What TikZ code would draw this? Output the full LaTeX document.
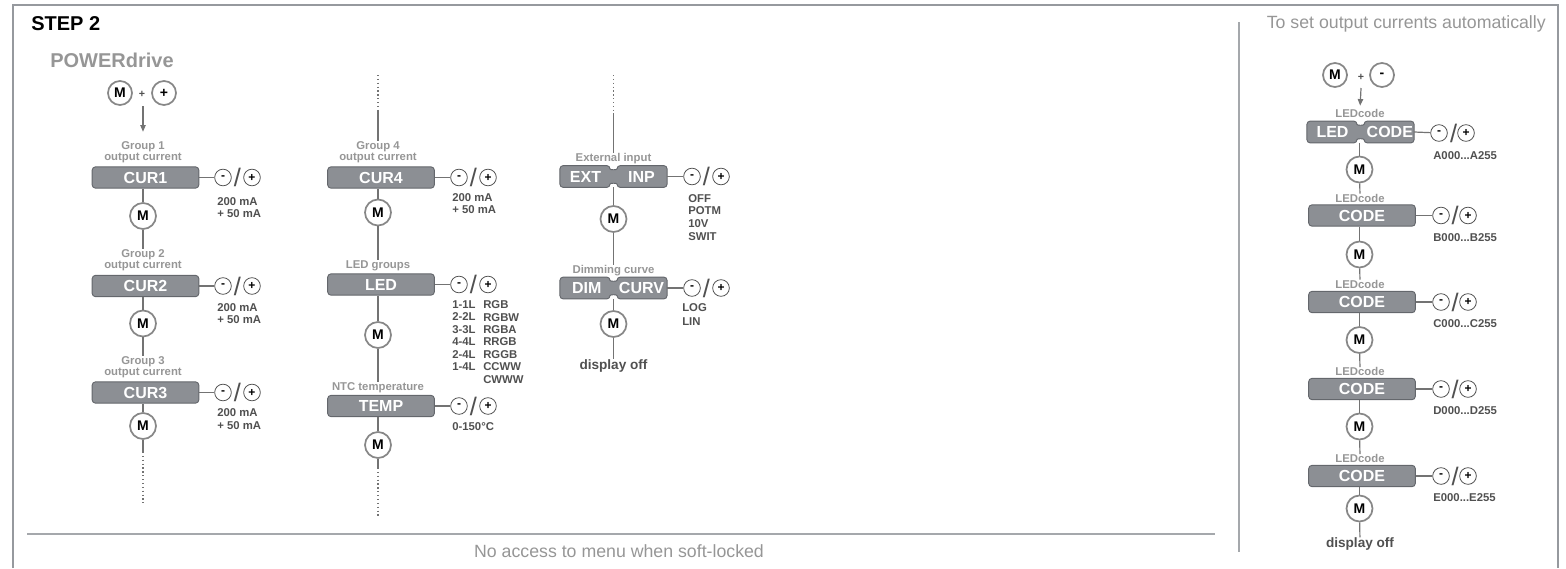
\documentclass[tikz,border=0pt]{standalone}
\usepackage{fontspec}
\setmainfont{Liberation Sans}
\usetikzlibrary{arrows.meta}
\definecolor{framegray}{RGB}{150,153,158}
\definecolor{sepgray}{RGB}{165,168,172}
\definecolor{boxfill}{RGB}{140,143,148}
\definecolor{boxedge}{RGB}{100,103,108}
\definecolor{ringgray}{RGB}{135,135,135}
\definecolor{lblgray}{RGB}{150,150,150}
\definecolor{valgray}{RGB}{80,80,80}
\definecolor{wiregray}{RGB}{115,115,115}

\tikzset{
  menubox/.style={rectangle, rounded corners=2.5pt, fill=boxfill, draw=boxedge,
    line width=0.7pt, minimum width=80pt, minimum height=16pt, inner sep=0pt,
    text=white, font=\fontsize{12}{12}\selectfont\bfseries},
  splitbox/.style={rectangle, minimum width=80pt, minimum height=16pt, inner sep=0pt},
  splitedge/.style={fill=boxfill, draw=boxedge, line width=0.7pt, rounded corners=2.5pt},
  boxtext/.style={text=white, inner sep=0pt, font=\fontsize{12}{12}\selectfont\bfseries},
  mkey/.style={circle, draw=ringgray, line width=1.3pt, fill=white, minimum size=19.5pt,
    inner sep=0pt, font=\fontsize{10.5}{10.5}\selectfont\bfseries},
  startkey/.style={mkey, minimum size=18pt},
  pmkey/.style={circle, draw=valgray, line width=0.6pt, minimum size=12.5pt, inner sep=0pt,
    font=\fontsize{9}{9}\selectfont\bfseries},
  slashmark/.style={inner sep=0pt, text=valgray, font=\fontsize{19}{19}\selectfont},
  andsign/.style={inner sep=0pt, text=valgray, font=\fontsize{8}{8}\selectfont\bfseries},
  menulbl/.style={text=lblgray, align=center, inner sep=0pt,
    font=\fontsize{8.5}{8.25}\selectfont\bfseries},
  vals/.style={text=valgray, align=left, anchor=north west, inner sep=0pt,
    font=\fontsize{8.5}{9.6}\selectfont\bfseries},
  wire/.style={draw=wiregray, line width=0.9pt},
  dotwire/.style={draw=wiregray, line width=0.9pt, dotted},
  note/.style={text=lblgray, inner sep=0pt, font=\fontsize{13.3}{13.3}\selectfont},
}

\begin{document}
\begin{tikzpicture}[x=0.75pt, y=-0.75pt]

\useasboundingbox (0,0) rectangle (1566,568);

% Frame and separators
\draw[framegray, line width=1.6pt] (13,568) -- (13,5) -- (1558,5) -- (1558,568);
\draw[sepgray, line width=1.3pt] (1239,22) -- (1239,552);
\draw[sepgray, line width=1.3pt] (27,534) -- (1215,534);

% Titles
\node[anchor=west, inner sep=0pt, font=\fontsize{15}{15}\selectfont\bfseries] (step) at (31,24) {STEP 2};
\node[anchor=west, inner sep=0pt, text=lblgray, font=\fontsize{15}{15}\selectfont\bfseries] (brand) at (50,60) {POWERdrive};
\node[note, anchor=east] (auto) at (1546,24) {To set output currents automatically};
\node[note] (locked) at (619,551) {No access to menu when soft-locked};

% Column 1: CUR1 .. CUR3
\node[startkey] (mk0) at (120,93) {M};
\node[andsign] (and0) at (142,94) {+};
\node[startkey] (pk0) at (164,93) {+};
\coordinate (arr0) at (143,106);

\node[menulbl] (lab1) at (143,152) {Group 1\\output current};
\draw[wire, -{Triangle[length=5pt,width=4pt]}, shorten >=7pt] (arr0) -- (lab1.north);
\node[menubox] (cur1) at (145.5,177.5) {CUR1};
\node[pmkey] (mn1) at (223,177.5) {-};
\node[slashmark] (sl1) at (237.5,177.5) {/};
\node[pmkey] (pl1) at (252,177.5) {+};
\node[vals] (v1) at (217,197) {200 mA\\+ 50 mA};
\node[mkey] (m1) at (143,216) {M};
\draw[wire] (cur1) -- (mn1);
\draw[wire] (cur1.south -| m1) -- (m1.north);

\node[menulbl] (lab2) at (143,260) {Group 2\\output current};
\draw[wire] (m1) -- (lab2);
\node[menubox] (cur2) at (145.5,286) {CUR2};
\node[pmkey] (mn2) at (223,286) {-};
\node[slashmark] (sl2) at (237.5,286) {/};
\node[pmkey] (pl2) at (252,286) {+};
\node[vals] (v2) at (217,303) {200 mA\\+ 50 mA};
\node[mkey] (m2) at (143,323.5) {M};
\draw[wire] (cur2) -- (mn2);
\draw[wire] (cur2.south -| m2) -- (m2.north);

\node[menulbl] (lab3) at (143,367) {Group 3\\output current};
\draw[wire] (m2) -- (lab3);
\node[menubox] (cur3) at (145.5,392.5) {CUR3};
\node[pmkey] (mn3) at (223,392.5) {-};
\node[slashmark] (sl3) at (237.5,392.5) {/};
\node[pmkey] (pl3) at (252,392.5) {+};
\node[vals] (v3) at (217,408.5) {200 mA\\+ 50 mA};
\node[mkey] (m3) at (143,426) {M};
\draw[wire] (cur3) -- (mn3);
\draw[wire] (cur3.south -| m3) -- (m3.north);
\coordinate (e3a) at (143,452);
\coordinate (e3b) at (143,503);
\draw[wire] (m3) -- (e3a);
\draw[dotwire] (e3a) -- (e3b);

% Column 2: CUR4, LED, TEMP
\coordinate (t4a) at (378,75);
\coordinate (t4b) at (378,110);
\draw[dotwire] (t4a) -- (t4b);
\node[menulbl] (lab4) at (378,152) {Group 4\\output current};
\draw[wire] (t4b) -- (lab4);
\node[menubox] (cur4) at (381,177.5) {CUR4};
\node[pmkey] (mn4) at (459,177.5) {-};
\node[slashmark] (sl4) at (473.5,177.5) {/};
\node[pmkey] (pl4) at (488,177.5) {+};
\node[vals] (v4) at (452,193) {200 mA\\+ 50 mA};
\node[mkey] (m4) at (378,212.5) {M};
\draw[wire] (cur4) -- (mn4);
\draw[wire] (cur4.south -| m4) -- (m4.north);

\node[menulbl] (lab5) at (378,265.5) {LED groups};
\draw[wire] (m4) -- (lab5);
\node[menubox] (led) at (381,284.5) {LED};
\node[pmkey] (mn5) at (459,284.5) {-};
\node[slashmark] (sl5) at (473.5,284.5) {/};
\node[pmkey] (pl5) at (488,284.5) {+};
\node[vals, font=\fontsize{8.5}{9.3}\selectfont\bfseries] (v5a) at (452,300.5)
    {1-1L\\2-2L\\3-3L\\4-4L\\2-4L\\1-4L};
\node[vals, font=\fontsize{8.5}{9.3}\selectfont\bfseries] (v5b) at (483,300.5)
    {RGB\\RGBW\\RGBA\\RRGB\\RGGB\\CCWW\\CWWW};
\node[mkey] (m5) at (378,335) {M};
\draw[wire] (led) -- (mn5);
\draw[wire] (led.south -| m5) -- (m5.north);

\node[menulbl] (lab6) at (378,387.5) {NTC temperature};
\draw[wire] (m5) -- (lab6);
\node[menubox] (temp) at (381,406) {TEMP};
\node[pmkey] (mn6) at (459,406) {-};
\node[slashmark] (sl6) at (473.5,406) {/};
\node[pmkey] (pl6) at (488,406) {+};
\node[vals] (v6) at (452,422) {0-150°C};
\node[mkey] (m6) at (378,445) {M};
\draw[wire] (temp) -- (mn6);
\draw[wire] (temp.south -| m6) -- (m6.north);
\coordinate (e6a) at (378,468);
\coordinate (e6b) at (378,518);
\draw[wire] (m6) -- (e6a);
\draw[dotwire] (e6a) -- (e6b);

% Column 3: EXT INP, DIM CURV
\coordinate (t7a) at (613.5,75);
\coordinate (t7b) at (613.5,113);
\draw[dotwire] (t7a) -- (t7b);
\node[menulbl] (lab7) at (613.5,158.5) {External input};
\draw[wire] (t7b) -- (lab7);
\node[splitbox] (ext) at (613.5,176.5) {};
\draw[splitedge] (ext.north west) -- ([xshift=-2.6pt]ext.north)
    .. controls +(0,4.5) and +(0,4.5) .. ([xshift=2.6pt]ext.north) -- (ext.north east)
    -- (ext.south east) -- ([xshift=2.6pt]ext.south)
    .. controls +(0,-4.5) and +(0,-4.5) .. ([xshift=-2.6pt]ext.south) -- (ext.south west) -- cycle;
\node[boxtext] (extl) at ([xshift=-21pt]ext.center) {EXT};
\node[boxtext] (extr) at ([xshift=21pt]ext.center) {INP};
\node[pmkey] (mn7) at (692,176.5) {-};
\node[slashmark] (sl7) at (706.5,176.5) {/};
\node[pmkey] (pl7) at (721,176.5) {+};
\node[vals] (v7) at (688,194) {OFF\\POTM\\10V\\SWIT};
\node[mkey] (m7) at (613.5,219) {M};
\draw[wire] (ext.east) -- (mn7);
\draw[wire] (ext.south) -- (m7.north);

\node[menulbl] (lab8) at (613.5,270.5) {Dimming curve};
\draw[wire] (m7) -- (lab8);
\node[splitbox] (dim) at (613.5,288) {};
\draw[splitedge] (dim.north west) -- ([xshift=-2.6pt]dim.north)
    .. controls +(0,4.5) and +(0,4.5) .. ([xshift=2.6pt]dim.north) -- (dim.north east)
    -- (dim.south east) -- ([xshift=2.6pt]dim.south)
    .. controls +(0,-4.5) and +(0,-4.5) .. ([xshift=-2.6pt]dim.south) -- (dim.south west) -- cycle;
\node[boxtext] (diml) at ([xshift=-20pt]dim.center) {DIM};
\node[boxtext] (dimr) at ([xshift=21pt]dim.center) {CURV};
\node[pmkey] (mn8) at (692,288) {-};
\node[slashmark] (sl8) at (706.5,288) {/};
\node[pmkey] (pl8) at (721,288) {+};
\node[vals, font=\fontsize{8.5}{10.5}\selectfont\bfseries] (v8) at (682,303) {LOG\\LIN};
\node[mkey] (m8) at (613.5,324) {M};
\draw[wire] (dim.east) -- (mn8);
\draw[wire] (dim.south) -- (m8.north);
\node[inner sep=0pt, text=valgray, font=\fontsize{10.2}{10.2}\selectfont\bfseries] (off8) at (613.5,366) {display off};
\draw[wire] (m8) -- (off8);

% Right column: LED CODE, CODE x4
\node[startkey] (mk9) at (1335,75) {M};
\node[andsign] (and9) at (1361,77) {+};
\node[startkey] (nk9) at (1382,75) {-};
\coordinate (arr9) at (1361,88);

\node[menulbl] (lab9) at (1360,113.5) {LEDcode};
\draw[wire, -{Triangle[length=5pt,width=4pt]}, shorten >=2.5pt] (arr9) -- (lab9.north);
\node[splitbox] (lcode) at (1360.5,132) {};
\draw[splitedge] (lcode.north west) -- ([xshift=-2.6pt]lcode.north)
    .. controls +(0,4.5) and +(0,4.5) .. ([xshift=2.6pt]lcode.north) -- (lcode.north east)
    -- (lcode.south east) -- ([xshift=2.6pt]lcode.south)
    .. controls +(0,-4.5) and +(0,-4.5) .. ([xshift=-2.6pt]lcode.south) -- (lcode.south west) -- cycle;
\node[boxtext] (lcodel) at ([xshift=-21pt]lcode.center) {LED};
\node[boxtext] (lcoder) at ([xshift=22pt]lcode.center) {CODE};
\node[pmkey] (mn9) at (1439,133) {-};
\node[slashmark] (sl9) at (1453.5,133) {/};
\node[pmkey] (pl9) at (1466,133) {+};
\node[vals] (v9) at (1433,151) {A000...A255};
\node[mkey] (m9) at (1359.5,169.5) {M};
\draw[wire] (lcode.east) -- (mn9);
\draw[wire] (lcode.south -| m9) -- (m9.north);

\node[menulbl] (lab10) at (1360,198) {LEDcode};
\draw[wire] (m9) -- (lab10);
\node[menubox] (code10) at (1362,215.5) {CODE};
\node[pmkey] (mn10) at (1441,215.5) {-};
\node[slashmark] (sl10) at (1455,215.5) {/};
\node[pmkey] (pl10) at (1468,215.5) {+};
\node[vals] (v10) at (1433,233) {B000...B255};
\node[mkey] (m10) at (1359.5,254.5) {M};
\draw[wire] (code10) -- (mn10);
\draw[wire] (code10.south -| m10) -- (m10.north);

\node[menulbl] (lab11) at (1360,284) {LEDcode};
\draw[wire] (m10) -- (lab11);
\node[menubox] (code11) at (1362,302) {CODE};
\node[pmkey] (mn11) at (1441,302) {-};
\node[slashmark] (sl11) at (1455,302) {/};
\node[pmkey] (pl11) at (1468,302) {+};
\node[vals] (v11) at (1433,319) {C000...C255};
\node[mkey] (m11) at (1359.5,340) {M};
\draw[wire] (code11) -- (mn11);
\draw[wire] (code11.south -| m11) -- (m11.north);

\node[menulbl] (lab12) at (1360,371.5) {LEDcode};
\draw[wire] (m11) -- (lab12);
\node[menubox] (code12) at (1362,389) {CODE};
\node[pmkey] (mn12) at (1441,389) {-};
\node[slashmark] (sl12) at (1455,389) {/};
\node[pmkey] (pl12) at (1468,389) {+};
\node[vals] (v12) at (1433,406) {D000...D255};
\node[mkey] (m12) at (1359.5,426.5) {M};
\draw[wire] (code12) -- (mn12);
\draw[wire] (code12.south -| m12) -- (m12.north);

\node[menulbl] (lab13) at (1360,458.5) {LEDcode};
\draw[wire] (m12) -- (lab13);
\node[menubox] (code13) at (1362,476) {CODE};
\node[pmkey] (mn13) at (1441,476) {-};
\node[slashmark] (sl13) at (1455,476) {/};
\node[pmkey] (pl13) at (1468,476) {+};
\node[vals] (v13) at (1433,493) {E000...E255};
\node[mkey] (m13) at (1359.5,508.5) {M};
\draw[wire] (code13) -- (mn13);
\draw[wire] (code13.south -| m13) -- (m13.north);
\node[inner sep=0pt, text=valgray, font=\fontsize{10.2}{10.2}\selectfont\bfseries] (off13) at (1360,544) {display off};
\draw[wire] (m13) -- (off13);

\end{tikzpicture}
\end{document}
